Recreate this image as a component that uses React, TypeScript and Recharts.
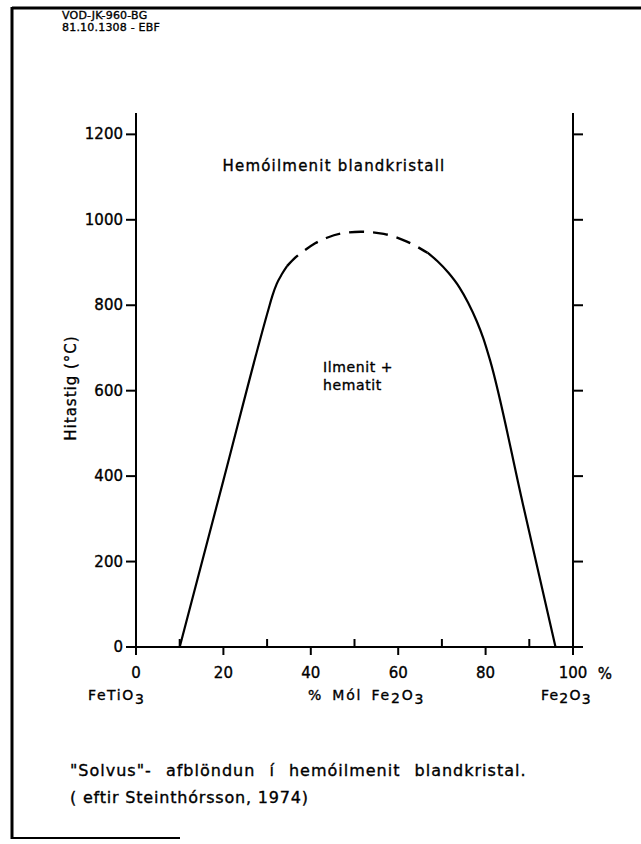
import React from 'react';
import { LineChart, Line, XAxis, YAxis, ReferenceDot } from 'recharts';

// Solvus curve (x = mol % Fe2O3, t = temperature °C)
const leftBranch = [
  { x: 10, t: 0 },
  { x: 20, t: 390 },
  { x: 30.3, t: 790 },
  { x: 31.2, t: 822 },
  { x: 32.2, t: 850 },
  { x: 33.4, t: 873 },
  { x: 34.6, t: 892 },
];
const domeDashed = [
  { x: 34.6, t: 892 },
  { x: 36.5, t: 912 },
  { x: 38.4, t: 927 },
  { x: 41, t: 945 },
  { x: 43.7, t: 958 },
  { x: 47, t: 968 },
  { x: 51.4, t: 972 },
  { x: 56.7, t: 967 },
  { x: 62, t: 949 },
  { x: 66.7, t: 923 },
];
const rightBranch = [
  { x: 66.7, t: 923 },
  { x: 69, t: 903 },
  { x: 71.5, t: 876 },
  { x: 74, t: 842 },
  { x: 76, t: 806 },
  { x: 78, t: 762 },
  { x: 79.5, t: 722 },
  { x: 81, t: 672 },
  { x: 88.5, t: 336 },
  { x: 96, t: 0 },
];

const xTicks = [0, 10, 20, 30, 40, 50, 60, 70, 80, 90, 100];
const xLabeled = [0, 20, 40, 60, 80, 100];
const yTicks = [0, 200, 400, 600, 800, 1000, 1200];

const FONT = "'DejaVu Sans', 'Liberation Sans', sans-serif";
const TS = { fill: '#000', stroke: '#000', strokeWidth: 0.35, fontFamily: FONT } as const;

const XTick = (props: any) => {
  const { x, y, payload } = props;
  const v = payload.value;
  const major = xLabeled.includes(v);
  return (
    <g>
      <line x1={x} x2={x} y1={y} y2={major ? y + 8 : y - 8} stroke="#000" strokeWidth={2} />
      {major && (
        <text x={x} y={y + 31} textAnchor="middle" fontSize={15} {...TS}>
          {String(v)}
        </text>
      )}
    </g>
  );
};

const YTickLeft = (props: any) => {
  const { x, y, payload } = props;
  return (
    <g>
      <line x1={x - 10} x2={x} y1={y} y2={y} stroke="#000" strokeWidth={2} />
      <text x={x - 13} y={y + 5} textAnchor="end" fontSize={15} {...TS}>
        {String(payload.value)}
      </text>
    </g>
  );
};

const YTickRight = (props: any) => {
  const { x, y } = props;
  return <line x1={x} x2={x + 10} y1={y} y2={y} stroke="#000" strokeWidth={2} />;
};

const textLabel = (lines: string[], anchor: 'start' | 'middle', size: number, ls: number) => (p: any) => {
  const vb = p.viewBox || {};
  const cx = (vb.x ?? 0) + (vb.width ?? 0) / 2;
  const cy = (vb.y ?? 0) + (vb.height ?? 0) / 2;
  return (
    <text x={cx} y={cy} textAnchor={anchor} fontSize={size} letterSpacing={ls} {...TS}>
      {lines.map((l, i) => (
        <tspan key={i} x={cx} dy={i === 0 ? 5 : 18}>
          {l}
        </tspan>
      ))}
    </text>
  );
};

export default function App() {
  return (
    <div style={{ position: 'absolute', left: 0, top: 0, width: 641, height: 844, background: '#fff' }}>
      <svg width={641} height={844} style={{ position: 'absolute', left: 0, top: 0 }}>
        {/* frame */}
        <line x1={12} y1={8} x2={641} y2={8} stroke="#000" strokeWidth={3} />
        <line x1={12} y1={7} x2={12} y2={839} stroke="#000" strokeWidth={3} />
        <line x1={12} y1={838} x2={180} y2={838} stroke="#000" strokeWidth={2} />
        <text x={62} y={19} fontSize={11} letterSpacing={0.2} {...TS}>VOD-JK-960-BG</text>
        <text x={62} y={31} fontSize={11} letterSpacing={0.2} {...TS}>81.10.1308 - EBF</text>
        <text x={605} y={679} textAnchor="middle" fontSize={15} {...TS}>%</text>
        <text x={88} y={700} fontSize={14} letterSpacing={1.6} {...TS}>
          FeTiO<tspan dy={4}>3</tspan>
        </text>
        <text x={308} y={700} fontSize={14} letterSpacing={1.8} wordSpacing={3} {...TS}>
          % Mól  Fe<tspan dy={3}>2</tspan><tspan dy={-3}>O</tspan><tspan dy={4}>3</tspan>
        </text>
        <text x={541} y={700} fontSize={14} letterSpacing={1.2} {...TS}>
          Fe<tspan dy={3}>2</tspan><tspan dy={-3}>O</tspan><tspan dy={4}>3</tspan>
        </text>
        <text x={70} y={776} fontSize={16} letterSpacing={1} wordSpacing={8} {...TS}>
          "Solvus"- afblöndun í hemóilmenit blandkristal.
        </text>
        <text x={70} y={803} fontSize={16} letterSpacing={0.8} {...TS}>
          ( eftir Steinthórsson, 1974)
        </text>
        <text
          x={0}
          y={0}
          transform="translate(76 388) rotate(-90)"
          textAnchor="middle"
          fontSize={15}
          letterSpacing={1}
          {...TS}
        >
          Hitastig (°C)
        </text>
      </svg>
      <div style={{ position: 'absolute', left: 0, top: 0 }}>
        <LineChart width={641} height={844} margin={{ top: 113, right: 48, bottom: 167, left: 0 }}>
          <XAxis
            type="number"
            dataKey="x"
            domain={[0, 100]}
            ticks={xTicks}
            interval={0}
            tickSize={0}
            tickMargin={0}
            tickLine={false}
            tick={<XTick />}
            axisLine={{ stroke: '#000', strokeWidth: 2 }}
            height={30}
            allowDataOverflow
          />
          <YAxis
            type="number"
            dataKey="t"
            domain={[0, 1250]}
            ticks={yTicks}
            interval={0}
            tickSize={0}
            tickMargin={0}
            tickLine={false}
            tick={<YTickLeft />}
            axisLine={{ stroke: '#000', strokeWidth: 2 }}
            width={136}
            allowDataOverflow
          />
          <YAxis
            yAxisId="right"
            orientation="right"
            type="number"
            domain={[0, 1250]}
            ticks={yTicks}
            interval={0}
            tickSize={0}
            tickMargin={0}
            tickLine={false}
            tick={<YTickRight />}
            axisLine={{ stroke: '#000', strokeWidth: 2 }}
            width={20}
            allowDataOverflow
          />
          <Line data={leftBranch} dataKey="t" type="monotone" stroke="#000" strokeWidth={2.2} dot={false} isAnimationActive={false} />
          <Line
            data={domeDashed}
            dataKey="t"
            type="monotone"
            stroke="#000"
            strokeWidth={2.4}
            strokeDasharray="15 9"
            dot={false}
            isAnimationActive={false}
          />
          <Line data={rightBranch} dataKey="t" type="monotone" stroke="#000" strokeWidth={2.2} dot={false} isAnimationActive={false} />
          <ReferenceDot
            x={45.3}
            y={1125}
            r={1}
            fill="none"
            stroke="none"
            label={textLabel(['Hemóilmenit blandkristall'], 'middle', 15, 1.2)}
          />
          <ReferenceDot
            x={42.8}
            y={655}
            r={1}
            fill="none"
            stroke="none"
            label={textLabel(['Ilmenit +', 'hematit'], 'start', 14, 0.6)}
          />
        </LineChart>
      </div>
    </div>
  );
}
